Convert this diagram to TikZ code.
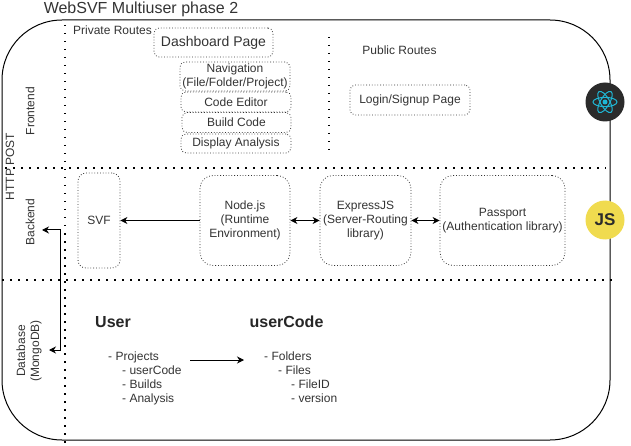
\documentclass[tikz,border=0pt]{standalone}
\usepackage{fontspec}
\setmainfont{Liberation Sans}
\usetikzlibrary{arrows.meta}
\definecolor{labelgray}{HTML}{333333}
\definecolor{reactdark}{HTML}{2B2B2B}
\definecolor{reactcyan}{HTML}{1FB8D6}
\definecolor{jsyellow}{HTML}{F0DB4F}
\tikzset{
  label12/.style={text=labelgray,font=\fontsize{12}{14}\selectfont,align=center,inner sep=0pt},
  pagebox/.style={label12,draw=labelgray,dotted,line width=0.8pt,rounded corners=5pt},
  bigbox/.style={pagebox,rounded corners=13pt},
  nudge/.style={execute at begin node={\rule{0pt}{#1}}},
  divider/.style={line width=1.5pt,dash pattern=on 1.5pt off 6.5pt},
  link/.style={line width=1pt,-{Stealth[length=7pt,width=7pt]}},
  twolink/.style={line width=1pt,{Stealth[length=7pt,width=7pt]}-{Stealth[length=7pt,width=7pt]}},
  listtext/.style={label12,align=left,anchor=north west},
  heading/.style={font=\bfseries\fontsize{16}{18}\selectfont,text=black!85,inner sep=0pt}
}
\begin{document}
\begin{tikzpicture}[x=1pt,y=-1pt]
\useasboundingbox (0,0) rectangle (631,446);

\node[draw,line width=1pt,minimum width=608pt,minimum height=420pt,rounded corners=60pt] (outer) at (306,230) {};
\node[text=labelgray,font=\fontsize{16}{18}\selectfont,inner sep=0pt] (title) at (141,9) {WebSVF Multiuser phase 2};

% dividers
\coordinate (topa) at (65,25);
\coordinate (topb) at (65,443);
\coordinate (routea) at (329,37);
\coordinate (routeb) at (329,152);
\coordinate (fronta) at (5,168);
\coordinate (frontb) at (606,168);
\coordinate (backa) at (2,280);
\coordinate (backb) at (612,280);
\draw[divider] (topa) -- (topb);
\draw[divider] (routea) -- (routeb);
\draw[divider] (fronta) -- (frontb);
\draw[divider] (backa) -- (backb);

% layer labels
\node[label12,rotate=90] (frontend) at (30,111) {Frontend};
\node[label12,rotate=90] (httppost) at (10,166.5) {HTTP POST};
\node[label12,rotate=90] (backend) at (30,222) {Backend};
\node[label12,rotate=90] (database) at (29,351) {Database\\(MongoDB)};

% frontend
\node[label12] (private) at (112.5,30) {Private Routes};
\node[label12] (public) at (399.5,50) {Public Routes};
\node[pagebox,font=\fontsize{14}{16}\selectfont,minimum width=119pt,minimum height=29pt] (dashboard) at (213.5,42.5) {Dashboard Page};
\node[pagebox,nudge=13pt,minimum width=110pt,minimum height=29pt] (navigation) at (235,76.5) {Navigation\\(File/Folder/Project)};
\node[pagebox,minimum width=110pt,minimum height=20pt] (editor) at (236,102) {Code Editor};
\node[pagebox,minimum width=109pt,minimum height=20pt] (build) at (236.5,122.5) {Build Code};
\node[pagebox,minimum width=110pt,minimum height=19pt] (display) at (236,143.5) {Display Analysis};
\node[pagebox,minimum width=120pt,minimum height=30pt] (login) at (410,100) {Login/Signup Page};

% backend
\node[pagebox,rounded corners=8pt,minimum width=42pt,minimum height=95pt] (svf) at (99,220.5) {SVF};
\node[bigbox,nudge=11pt,minimum width=90pt,minimum height=90pt] (nodejs) at (245,220.5) {Node.js\\(Runtime\\Environment)};
\node[bigbox,nudge=11pt,minimum width=91pt,minimum height=90pt] (express) at (365.5,220.5) {ExpressJS\\(Server-Routing\\library)};
\node[bigbox,nudge=13pt,minimum width=125pt,minimum height=90pt] (passport) at (502.5,220.5) {Passport\\(Authentication library)};
\draw[link] (nodejs) -- (svf);
\draw[twolink] (nodejs) -- (express);
\draw[twolink] (express) -- (passport);

% database
\node[heading] (user) at (113,322) {User};
\node[heading] (usercode) at (286.5,322) {userCode};
\node[listtext] (userlist) at (108,352) {- Projects\\\hspace*{14pt}- userCode\\\hspace*{14pt}- Builds\\\hspace*{14pt}- Analysis};
\node[listtext] (codelist) at (264,352) {- Folders\\\hspace*{14pt}- Files\\\hspace*{27pt}- FileID\\\hspace*{27pt}- version};
\coordinate (lista) at (190,360);
\coordinate (listb) at (244,360);
\draw[link] (lista) -- (listb);

% http post link
\coordinate (posta) at (42,230);
\coordinate (postb) at (60,230);
\coordinate (postc) at (60,350);
\coordinate (postd) at (49,350);
\draw[twolink] (posta) -- (postb) -- (postc) -- (postd);

% icons
\node[circle,fill=reactdark,minimum size=39pt,inner sep=0pt] (reacticon) at (605,102) {};
\foreach \a in {0,60,120}
  \draw[reactcyan,line width=1pt,rotate around={\a:(reacticon.center)}] (reacticon.center) ellipse [x radius=12pt,y radius=4.6pt];
\node[circle,fill=reactcyan,minimum size=5pt,inner sep=0pt] (reactdot) at (reacticon.center) {};
\node[circle,fill=jsyellow,text=reactdark,font=\bfseries\fontsize{17}{17}\selectfont,minimum size=39pt,inner sep=0pt] (jsicon) at (605,220) {JS};
\end{tikzpicture}
\end{document}
